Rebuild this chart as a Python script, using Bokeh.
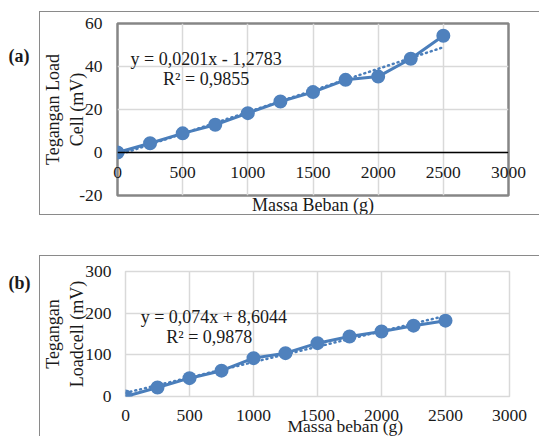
from bokeh.plotting import figure
from bokeh.models import Range1d, FixedTicker, Label, Title, Spacer, Span
from bokeh.layouts import column, row
from bokeh.embed import file_html
from bokeh.resources import INLINE

# ---------------- data ----------------
mass_a = [0, 250, 500, 750, 1000, 1250, 1500, 1750, 2000, 2250, 2500]
volt_a = [0, 4.3, 8.9, 12.9, 18.3, 23.7, 28.1, 33.8, 35.3, 43.6, 54.3]
slope_a, icpt_a = 0.0201, -1.2783
eq_a = "y = 0,0201x - 1,2783"
r2_a = "R² = 0,9855"

mass_b = [0, 250, 500, 750, 1000, 1250, 1500, 1750, 2000, 2250, 2500]
volt_b = [0, 21.6, 44, 62, 92, 104, 128, 144, 156, 170, 182]
slope_b, icpt_b = 0.074, 8.6044
eq_b = "y = 0,074x + 8,6044"
r2_b = "R² = 0,9878"

x_ticks = [0, 500, 1000, 1500, 2000, 2500, 3000]
y_ticks_a = [-20, 0, 20, 40, 60]
y_ticks_b = [0, 100, 200, 300]

FONT = "Liberation Serif"
BLUE = "#4a7ebb"
MARK = "#4f81bd"
GRID = "#d9d9d9"
TXT = "#1a1a1a"
FS = "17.5px"
BOX = "1px solid #8a8a8a"


def style_common(p):
    p.xaxis.ticker = FixedTicker(ticks=x_ticks)
    for ax in (p.xaxis, p.yaxis):
        ax.major_label_text_font = FONT
        ax.major_label_text_font_size = FS
        ax.major_label_text_color = TXT
        ax.major_tick_line_color = None
        ax.minor_tick_line_color = None
        ax.major_tick_out = 0
        ax.major_tick_in = 0
        ax.minor_tick_out = 0
        ax.minor_tick_in = 0
        ax.axis_label_text_font = FONT
        ax.axis_label_text_font_size = "18px"
        ax.axis_label_text_font_style = "normal"
        ax.axis_label_text_color = TXT
    p.yaxis.axis_line_color = None
    p.xaxis.axis_line_color = None
    p.xgrid.grid_line_color = GRID
    p.ygrid.grid_line_color = GRID
    p.xgrid.grid_line_width = 1.5
    p.ygrid.grid_line_width = 1.5


def add_series(p, xs, ys, slope, icpt):
    x0, x1 = min(xs), max(xs)
    p.line([x0, x1], [slope * x0 + icpt, slope * x1 + icpt], line_color=BLUE,
           line_width=2.5, line_dash="1 4", line_cap="round")
    p.line(xs, ys, line_color=BLUE, line_width=3)
    p.scatter(xs, ys, size=14, fill_color=MARK, line_color=None)


def text_label(p, x, y, text, align="center", bold=False):
    p.add_layout(Label(x=x, y=y, text=text, text_align=align, text_baseline="middle",
                       text_font=FONT, text_font_size="18px", text_color=TXT,
                       text_font_style="bold" if bold else "normal"))


def tag_figure(h, top, bottom, text, ty):
    t = figure(width=39, height=h, x_range=Range1d(0, 39), y_range=Range1d(0, h - top - bottom),
               output_backend="svg", toolbar_location=None,
               x_axis_location=None, y_axis_location=None,
               min_border_left=0, min_border_right=0,
               min_border_top=top, min_border_bottom=bottom)
    t.grid.visible = False
    t.outline_line_color = None
    text_label(t, 8, ty, text, align="left", bold=True)
    return t


# ---------------- chart (a) ----------------
pa = figure(width=500, height=204, x_range=Range1d(0, 3000), y_range=Range1d(-20, 60),
            output_backend="svg", toolbar_location=None,
            min_border_left=74, min_border_right=32, min_border_top=11,
            min_border_bottom=21)
style_common(pa)
pa.yaxis.ticker = FixedTicker(ticks=y_ticks_a)
pa.yaxis.major_label_overrides = {-20: "-20"}
pa.yaxis.major_label_standoff = 15
pa.yaxis.axis_label = "Tegangan Load\nCell (mV)"
pa.yaxis.axis_label_standoff = -11
pa.xaxis.major_label_standoff = -29
pa.outline_line_color = "#868686"
pa.outline_line_width = 2.5
pa.add_layout(Span(location=0, dimension="width", line_color="black", line_width=1.5))
pa.add_layout(Title(text="Massa Beban (g)", align="center", standoff=-5,
                    text_font=FONT, text_font_size="18px", text_font_style="normal",
                    text_color=TXT), "below")
add_series(pa, mass_a, volt_a, slope_a, icpt_a)
text_label(pa, 680, 43.6, eq_a)
text_label(pa, 680, 34.3, r2_a)
pa.styles = {"box-sizing": "border-box", "border-top": BOX, "border-left": BOX,
             "border-bottom": BOX}

la = tag_figure(204, 11, 21, "(a)", 139)

root_a = column(Spacer(width=540, height=11), row(la, pa))

# ---------------- chart (b) ----------------
pb = figure(width=500, height=181, x_range=Range1d(0, 3000), y_range=Range1d(0, 300),
            output_backend="svg", toolbar_location=None,
            min_border_left=83, min_border_right=31, min_border_top=15,
            min_border_bottom=41)
style_common(pb)
pb.yaxis.ticker = FixedTicker(ticks=y_ticks_b)
pb.yaxis.major_label_standoff = 14
pb.yaxis.axis_label = "Tegangan\nLoadcell (mV)"
pb.yaxis.axis_label_standoff = -5
pb.xaxis.major_label_standoff = 13
pb.outline_line_color = GRID
pb.outline_line_width = 1.5
pb.add_layout(Title(text="Massa beban (g)", align="left", offset=162, standoff=-20,
                    text_font=FONT, text_font_size="17.5px", text_font_style="normal",
                    text_color=TXT), "below")
add_series(pb, mass_b, volt_b, slope_b, icpt_b)
text_label(pb, 690, 192, eq_b)
text_label(pb, 655, 144, r2_b)
pb.styles = {"box-sizing": "border-box", "border-top": BOX, "border-left": BOX}

lb = tag_figure(181, 15, 41, "(b)", 113)

root_b = column(Spacer(width=540, height=40), row(lb, pb))

open("out.html", "w").write(file_html([root_a, root_b], INLINE))
